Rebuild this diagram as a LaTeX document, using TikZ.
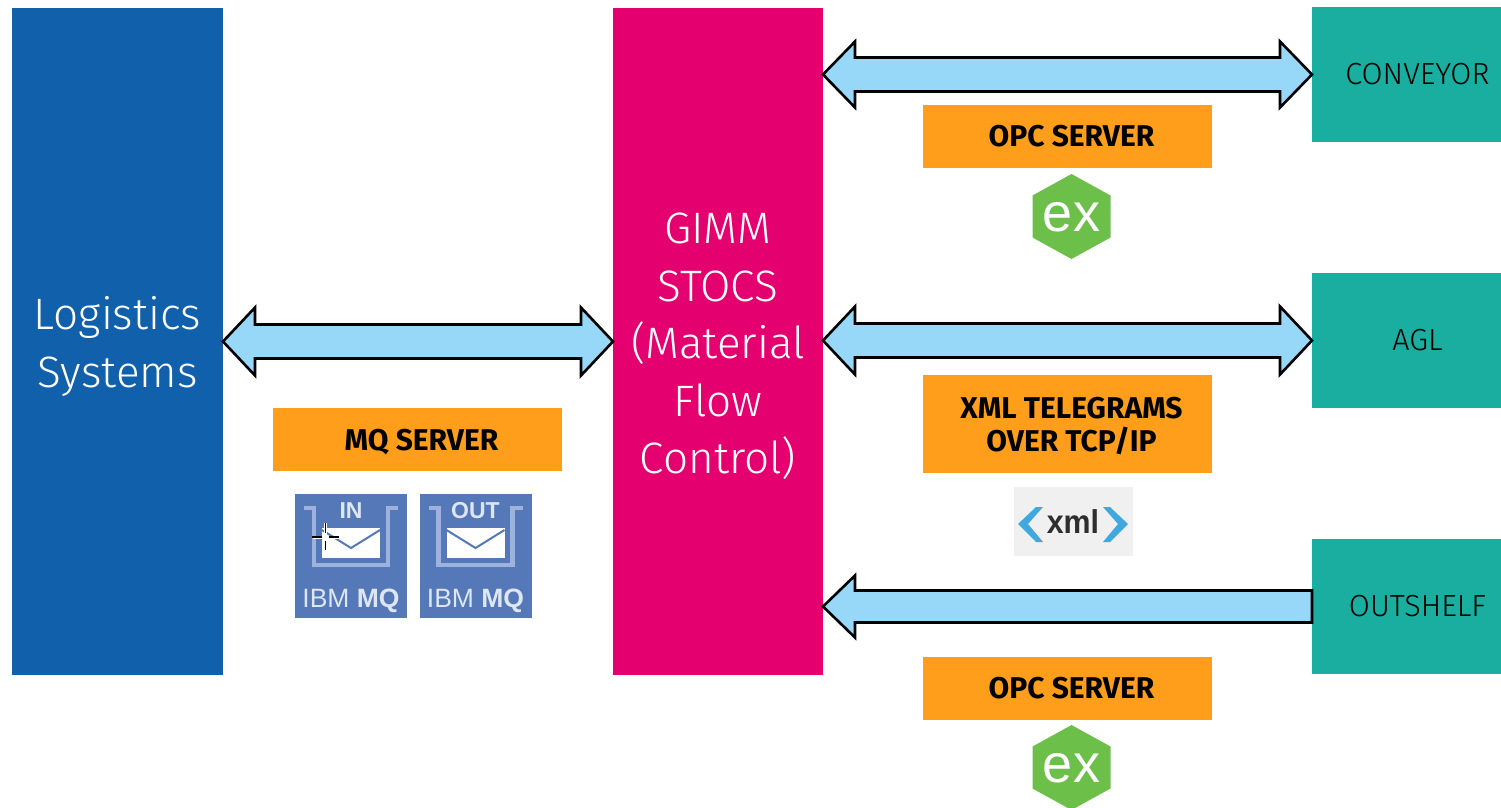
\documentclass[tikz,border=0pt]{standalone}
\usepackage{fontspec}
\setmainfont{Fira Sans}
\newfontfamily\lightf{Fira Sans Light}
\newfontfamily\labf{Fira Sans Light}
\newfontfamily\boldf{Fira Sans Bold}
\newfontfamily\libf{Liberation Sans}
\newfontfamily\xmlf{Liberation Sans Bold}[FakeStretch=0.92]
\definecolor{cblue}{HTML}{1060AC}
\definecolor{cpink}{HTML}{E4006E}
\definecolor{cteal}{HTML}{1AAEA0}
\definecolor{corange}{HTML}{FF9E1B}
\definecolor{carrow}{HTML}{97D7F8}
\definecolor{cgreen}{HTML}{6CC04A}
\definecolor{cmq}{HTML}{5578B8}
\definecolor{ctray}{HTML}{9DB2DC}
\definecolor{cmqtext}{HTML}{DDE6F4}
\definecolor{cchev}{HTML}{3FA9DF}
\tikzset{
  x=1pt,y=-1pt,
  box/.style={rectangle,inner sep=0pt,outer sep=0pt},
  bigbox/.style={box,text=white,align=center,font=\lightf\fontsize{44}{57.5}\selectfont},
  tealbox/.style={box,fill=cteal,minimum width=189pt,minimum height=135pt,font=\labf\fontsize{30.5}{32}\selectfont,text=black},
  orangebox/.style={box,fill=corange,minimum width=289pt,align=center,font=\boldf\fontsize{30}{33}\selectfont,text=black},
  blockarrow/.style={draw=black,line width=2.6pt,fill=carrow,line join=miter,miter limit=10},
  exhex/.style={fill=cgreen},
  extext/.style={box,text=white,font=\libf\fontsize{54}{54}\selectfont},
  mqtile/.style={fill=cmq},
  mqtray/.style={draw=ctray,line width=4.5pt},
  mqenv/.style={fill=white},
  mqflap/.style={draw=cmq,line width=2pt},
  mqtitle/.style={box,text=cmqtext,font=\libf\bfseries\fontsize{23}{23}\selectfont},
  mqbrand/.style={box,text=cmqtext,font=\libf\fontsize{26.5}{26.5}\selectfont},
  chev/.style={fill=cchev},
  cursor/.style={draw=black,line width=1.5pt},
}
% double-headed block arrow between two named points on the same level
\newcommand{\dblblock}[4]{% left, right, shaft half, head half
  \draw[blockarrow] (#1)
    -- ($(#1)+(32,-#4)$) -- ($(#1)+(32,-#3)$)
    -- ($(#2)+(-32,-#3)$) -- ($(#2)+(-32,-#4)$)
    -- (#2)
    -- ($(#2)+(-32,#4)$) -- ($(#2)+(-32,#3)$)
    -- ($(#1)+(32,#3)$) -- ($(#1)+(32,#4)$) -- cycle;}
\newcommand{\exicon}[2]{% name, centre
  \path[exhex] ($(#2)+(0,-42.5)$) -- ($(#2)+(39,-21)$) -- ($(#2)+(39,21)$)
     -- ($(#2)+(0,42.5)$) -- ($(#2)+(-39,21)$) -- ($(#2)+(-39,-21)$) -- cycle;
  \node[extext] (#1) at ($(#2)+(0,1)$) {ex};}
\newcommand{\mqicon}[3]{% name, centre x-coordinate name, title
  \path[mqtile] ($(#2)+(-56,0)$) rectangle ($(#2)+(56,124)$);
  \draw[mqtray] ($(#2)+(-47,14)$) -- ($(#2)+(-37,14)$) -- ($(#2)+(-37,71)$) -- ($(#2)+(37,71)$) -- ($(#2)+(37,14)$) -- ($(#2)+(47,14)$);
  \path[mqenv] ($(#2)+(-29,34)$) rectangle ($(#2)+(29,64)$);
  \draw[mqflap] ($(#2)+(-29,36)$) -- ($(#2)+(0,54)$) -- ($(#2)+(29,36)$);
  \node[mqtitle] (#1t) at ($(#2)+(0,17)$) {#3};
  \node[mqbrand] (#1b) at ($(#2)+(0,107)$) {IBM \textbf{MQ}};}
\newcommand{\tstr}[1]{\rule{0pt}{#1pt}}
\usetikzlibrary{calc}
\begin{document}
\begin{tikzpicture}
\useasboundingbox (0,0) rectangle (1501,807);
% main blocks
\node[bigbox,fill=cblue,minimum width=211pt,minimum height=667pt] (logistics) at (117.5,341.5) {\tstr{43}Logistics\\Systems};
\node[bigbox,fill=cpink,minimum width=210pt,minimum height=667pt] (gimm) at (718,341.5) {\tstr{41}GIMM\\STOCS\\(Material\\Flow\\Control)};
\node[tealbox] (conveyor) at (1406.5,74.5) {\hspace*{22pt}CONVEYOR};
\node[tealbox] (agl) at (1406.5,340.5) {\hspace*{22pt}AGL};
\node[tealbox] (outshelf) at (1406.5,606.5) {\hspace*{22pt}OUTSHELF};
% block arrows
\dblblock{logistics.east}{gimm.west}{17}{34}
\coordinate (g1) at (gimm.east |- conveyor.west);
\coordinate (g2) at (gimm.east |- agl.west);
\coordinate (g3) at (gimm.east |- outshelf.west);
\dblblock{g1}{conveyor.west}{17}{33}
\dblblock{g2}{agl.west}{17}{34}
\draw[blockarrow] (g3) -- ($(g3)+(32,-31)$) -- ($(g3)+(32,-16)$) -- ($(outshelf.west)+(0,-16)$)
   -- ($(outshelf.west)+(0,16)$) -- ($(g3)+(32,16)$) -- ($(g3)+(32,31)$) -- cycle;
% orange labels
\node[orangebox,minimum height=63pt] (opc1) at (1067.5,136.5) {\hspace*{8pt}OPC SERVER};
\node[orangebox,minimum height=98pt] (xmlt) at (1067.5,424) {\tstr{25}\hspace*{8pt}XML TELEGRAMS\\\hspace*{8pt}OVER TCP/IP};
\node[orangebox,minimum height=63pt] (opc2) at (1067.5,688.5) {\hspace*{8pt}OPC SERVER};
\node[orangebox,minimum height=63pt] (mqs) at (417.5,439.5) {\tstr{27}\hspace*{8pt}MQ SERVER};
% ex logos
\coordinate (ex1c) at (1071.5,216.5);
\coordinate (ex2c) at (1071.5,767.5);
\exicon{ex1}{ex1c}
\exicon{ex2}{ex2c}
% xml logo
\path[fill=black!6] (1014,487) rectangle (1133,556);
\path[chev] (1018,524) -- (1036,507) -- (1043,507) -- (1028,524) -- (1043,542) -- (1036,542) -- cycle;
\path[chev] (1128,524) -- (1110,507) -- (1103,507) -- (1118,524) -- (1103,542) -- (1110,542) -- cycle;
\node[box,text=black!82,font=\xmlf\fontsize{33}{33}\selectfont] (xmlt2) at (1073,522) {xml};
% IBM MQ logos
\coordinate (mqin) at (351,494);
\coordinate (mqout) at (475.5,494);
\mqicon{in}{mqin}{IN}
\mqicon{out}{mqout}{OUT}
% cursor
\draw[cursor,white,line width=3pt] (325.5,537) ++(-13,0) -- ++(26,0);
\draw[cursor,white,line width=3pt] (325.5,523) -- (325.5,550);
\draw[cursor] (312,537) -- (322,537) (329,537) -- (339,537) (325.5,523) -- (325.5,533) (325.5,541) -- (325.5,550);
\end{tikzpicture}
\end{document}
